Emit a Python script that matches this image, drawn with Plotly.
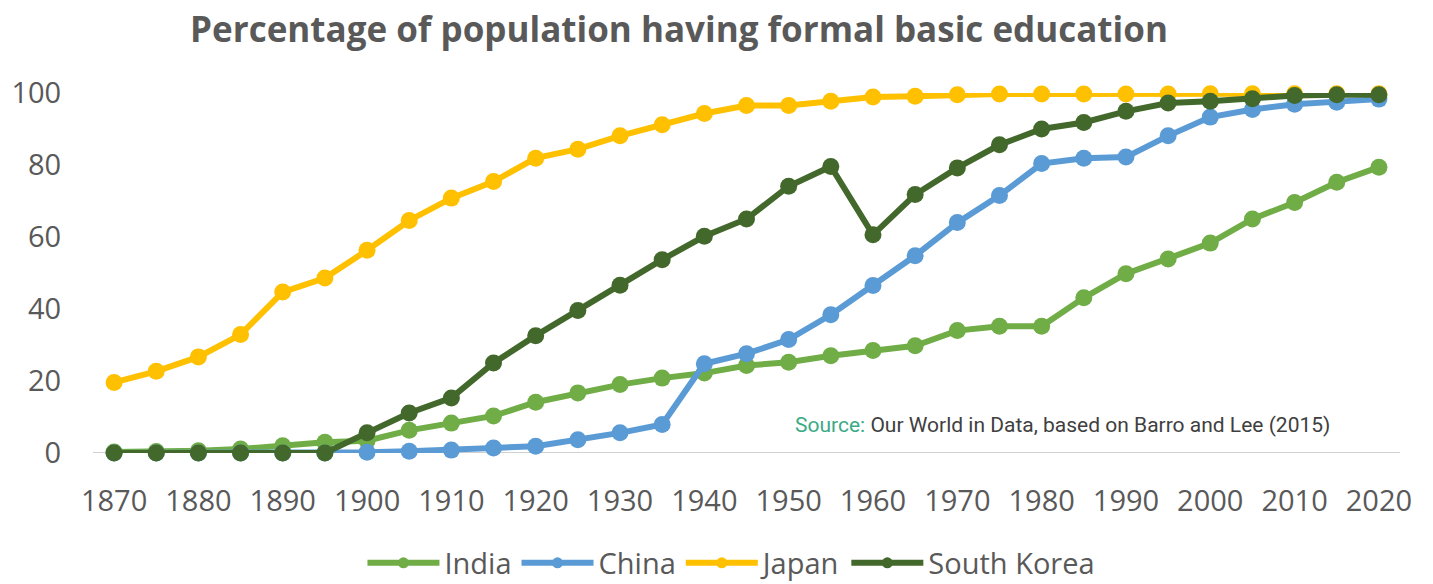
import plotly.graph_objects as go

years = list(range(1870, 2021, 5))
india = [0.3, 0.4, 0.6, 1.1, 2.0, 3.0, 3.4, 6.3, 8.3, 10.3, 14.1, 16.7, 19.0, 20.8, 22.2, 24.3,
         25.2, 27.0, 28.5, 29.8, 34.0, 35.2, 35.2, 43.1, 49.8, 53.9, 58.3, 65.0, 69.6, 75.2, 79.4]
china = [0.0, 0.0, 0.0, 0.0, 0.0, 0.0, 0.2, 0.5, 0.8, 1.4, 1.9, 3.7, 5.6, 7.9, 24.8, 27.6,
         31.5, 38.4, 46.5, 54.8, 64.0, 71.5, 80.4, 81.9, 82.2, 88.1, 93.3, 95.4, 96.9, 97.4, 98.3]
japan = [19.6, 22.7, 26.7, 32.9, 44.7, 48.6, 56.3, 64.6, 70.8, 75.4, 81.9, 84.4, 88.1, 91.2, 94.3, 96.5,
         96.5, 97.7, 98.9, 99.1, 99.5, 99.7, 99.7, 99.7, 99.7, 99.7, 99.8, 99.8, 99.8, 99.8, 99.8]
korea = [0.0, 0.0, 0.0, 0.0, 0.0, 0.0, 5.6, 11.1, 15.3, 25.0, 32.6, 39.6, 46.6, 53.7, 60.2, 65.0,
         74.1, 79.6, 60.6, 71.8, 79.2, 85.6, 90.0, 91.8, 94.9, 97.2, 97.7, 98.4, 99.3, 99.5, 99.5]

series = [("India", india, "#70AD47"), ("China", china, "#5B9BD5"),
          ("Japan", japan, "#FFC000"), ("South Korea", korea, "#43682B")]

x_ticks = list(range(1870, 2021, 10))
y_ticks = [0, 20, 40, 60, 80, 100]

fig = go.Figure()
for name, vals, col in series:
    fig.add_trace(go.Scatter(x=years, y=vals, name=name, mode="lines+markers",
                             line=dict(color=col, width=6),
                             marker=dict(color=col, size=17),
                             cliponaxis=False, showlegend=False, legendgroup=name))
# legend entries (smaller marker, like the reference legend)
for name, vals, col in series:
    fig.add_trace(go.Scatter(x=[None], y=[None], name=name, mode="lines+markers",
                             line=dict(color=col, width=6),
                             marker=dict(color=col, size=11),
                             showlegend=True, legendgroup=name))

fig.update_layout(
    width=1433, height=584,
    margin=dict(l=93, r=33, t=93, b=131),
    paper_bgcolor="white", plot_bgcolor="white",
    font=dict(family="Open Sans, sans-serif", color="#595959"),
    title=dict(text="<b>Percentage of population having formal basic education</b>",
               x=679/1433, xanchor="center", xref="container", y=1 - 30/584, yanchor="middle",
               font=dict(size=35, color="#595959", family="Open Sans, sans-serif")),
    xaxis=dict(range=[1867.5, 2022.5], tickvals=x_ticks, ticktext=[str(v) for v in x_ticks],
               showgrid=False, zeroline=False, showline=False,
               ticks="outside", ticklen=22, tickcolor="rgba(0,0,0,0)",
               tickfont=dict(size=29, color="#595959")),
    yaxis=dict(range=[0, 100], tickvals=y_ticks, showgrid=False, zeroline=False, showline=False,
               ticks="outside", ticklen=25, tickcolor="rgba(0,0,0,0)",
               tickfont=dict(size=29, color="#595959")),
    legend=dict(orientation="h", x=700/1433, xanchor="center", y=21/584, yref="container",
                yanchor="middle", font=dict(size=29, color="#595959"), itemwidth=72,
                traceorder="normal", tracegroupgap=0),
    showlegend=True,
)

# baseline axis line
fig.add_shape(type="line", xref="paper", yref="y", x0=0, x1=1, y0=0, y1=0,
              line=dict(color="#D0D0D0", width=2), layer="below")

fig.add_annotation(text="<span style='color:#3BAA86'>Source:</span> Our World in Data, based on Barro and Lee (2015)",
                   xref="paper", yref="paper", x=(1062 - 93) / 1307, y=(453 - 425) / 360,
                   xanchor="center", yanchor="middle", showarrow=False,
                   font=dict(size=21, color="#404040", family="Roboto, sans-serif"))

fig.write_html("out.html")
